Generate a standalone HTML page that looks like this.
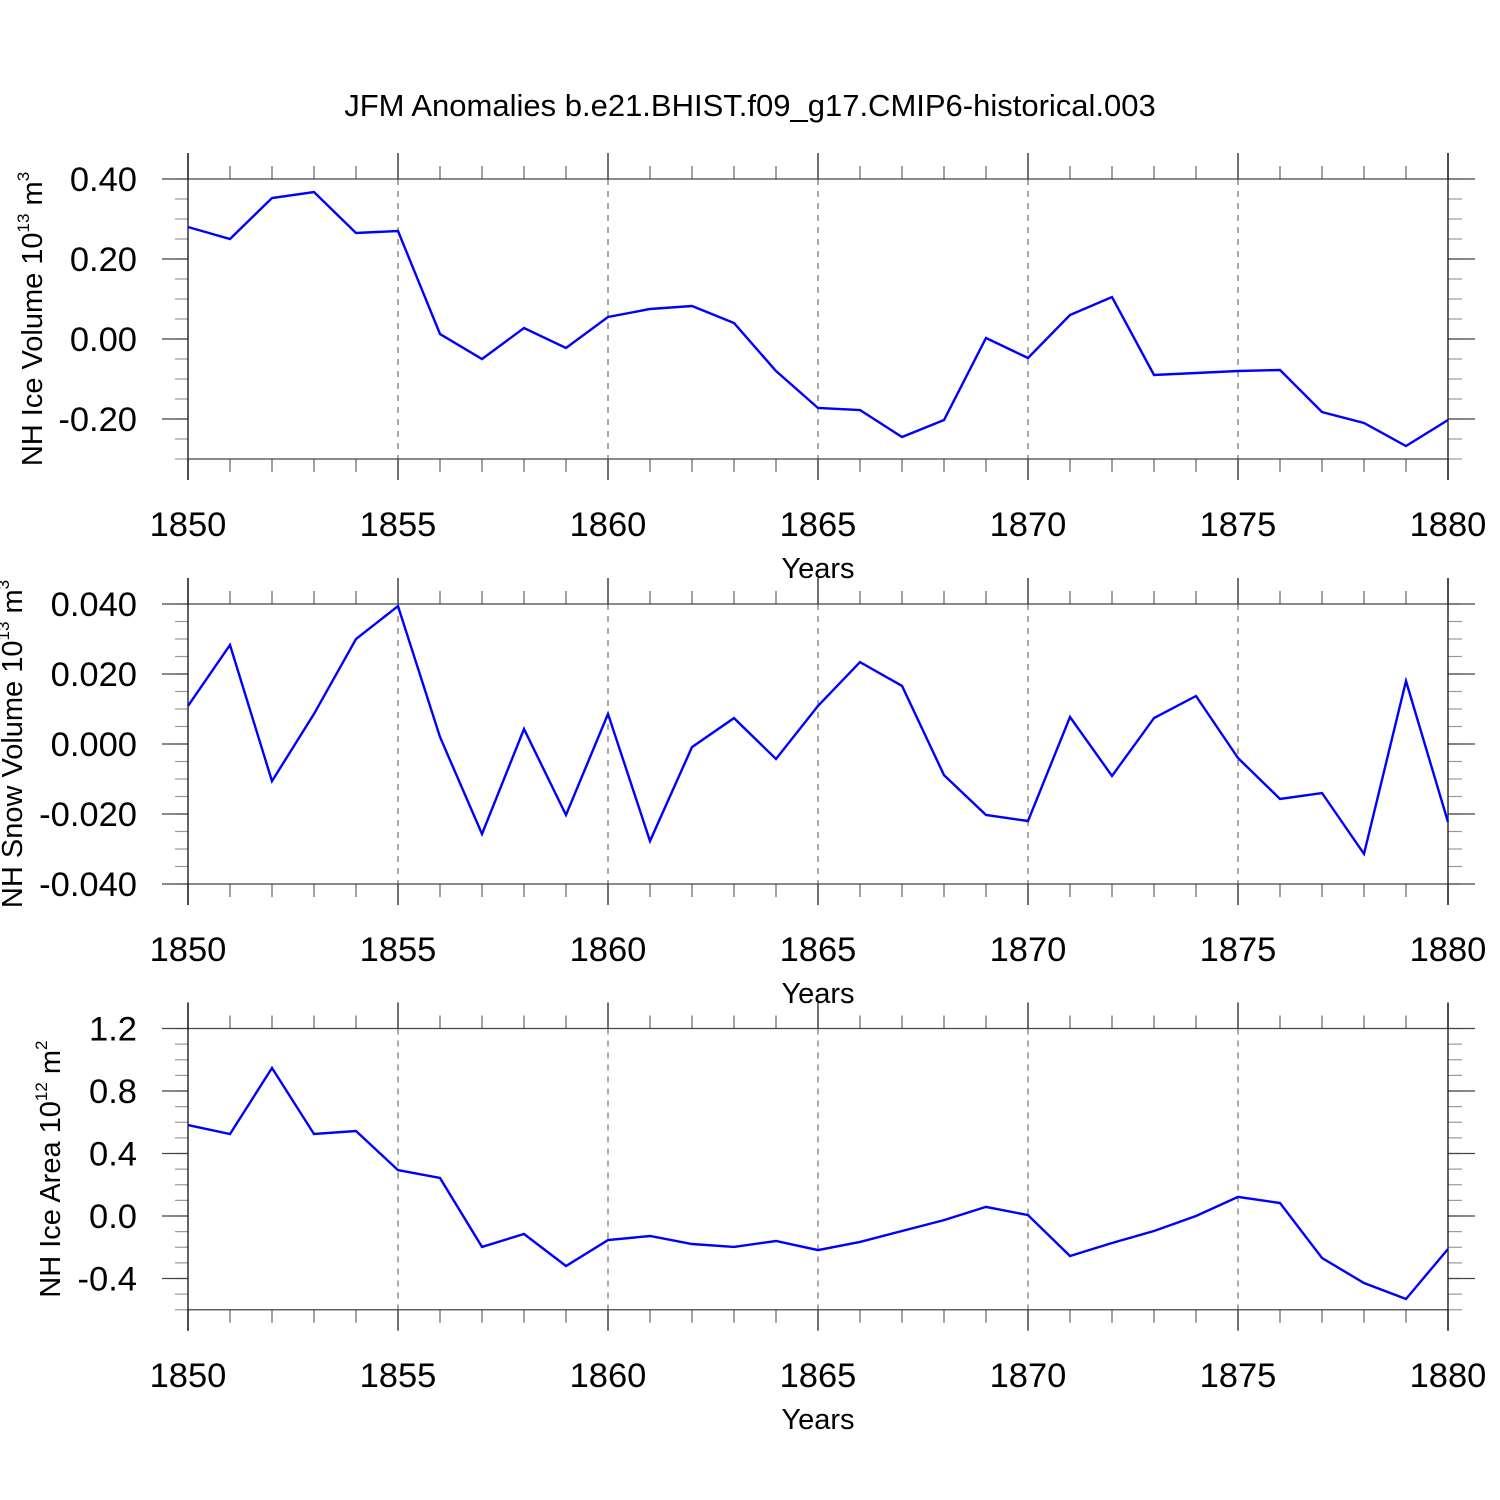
<!DOCTYPE html>
<html><head><meta charset="utf-8"><style>
html,body{margin:0;padding:0;background:#fff;}
svg{display:block;font-family:"Liberation Sans",sans-serif;}
</style></head><body>
<svg id="c" width="1500" height="1500" viewBox="0 0 1500 1500">
<text x="750" y="116" font-size="31" text-anchor="middle">JFM Anomalies b.e21.BHIST.f09_g17.CMIP6-historical.003</text>
</svg>
<script>
const years = [1850,1851,1852,1853,1854,1855,1856,1857,1858,1859,1860,1861,1862,1863,1864,1865,1866,1867,1868,1869,1870,1871,1872,1873,1874,1875,1876,1877,1878,1879,1880];
const iceVolume = [0.28,0.25,0.3525,0.3675,0.265,0.27,0.0125,-0.05,0.0275,-0.0225,0.055,0.075,0.0825,0.04,-0.08,-0.1725,-0.1775,-0.245,-0.2025,0.0025,-0.0475,0.06,0.105,-0.09,-0.085,-0.08,-0.0775,-0.1825,-0.21,-0.2675,-0.2025];
const snowVolume = [0.0109,0.0283,-0.0106,0.0086,0.030,0.0394,0.002,-0.0257,0.0043,-0.0203,0.0086,-0.0277,-0.0009,0.0074,-0.0043,0.0109,0.0234,0.0166,-0.0089,-0.0203,-0.022,0.0077,-0.0091,0.0074,0.0137,-0.004,-0.0157,-0.014,-0.0314,0.018,-0.0223];
const iceArea = [0.582,0.525,0.947,0.525,0.544,0.294,0.243,-0.198,-0.115,-0.32,-0.154,-0.128,-0.179,-0.198,-0.16,-0.218,-0.166,-0.096,-0.026,0.058,0.006,-0.256,-0.173,-0.096,0,0.122,0.083,-0.269,-0.429,-0.531,-0.211];
const xTicks = [1850,1855,1860,1865,1870,1875,1880];
const ticks1 = ["0.40","0.20","0.00","-0.20"];
const ticks2 = ["0.040","0.020","0.000","-0.020","-0.040"];
const ticks3 = ["1.2","0.8","0.4","0.0","-0.4"];

const NS="http://www.w3.org/2000/svg";
const svg=document.getElementById('c');
function mk(tag,attrs,parent){const e=document.createElementNS(NS,tag);for(const k in attrs)e.setAttribute(k,attrs[k]);(parent||svg).appendChild(e);return e;}

function panel(cfg){
  const g=mk('g',{});
  
  
  const L=188,R=1448,T=cfg.top,B=cfg.bottom;
  const xs=v=>L+(v-1850)*(R-L)/30;
  const ys=v=>T+(cfg.ymax-v)*(B-T)/(cfg.ymax-cfg.ymin);
  xTicks.slice(1,-1).forEach(v=>{const l=mk('line',{x1:xs(v),x2:xs(v),y1:T,y2:B,stroke:'#555','stroke-width':1,'stroke-dasharray':'6,6'},g);
    });
  years.forEach(v=>{if(xTicks.indexOf(v)<0){
    mk('line',{x1:xs(v),x2:xs(v),y1:T-13,y2:T,stroke:'#444','stroke-width':1},g);
    mk('line',{x1:xs(v),x2:xs(v),y1:B,y2:B+13,stroke:'#444','stroke-width':1},g);}});
  xTicks.forEach(v=>{
    mk('line',{x1:xs(v),x2:xs(v),y1:T-26,y2:T,stroke:'#222','stroke-width':1.3},g);
    mk('line',{x1:xs(v),x2:xs(v),y1:B,y2:B+21,stroke:'#222','stroke-width':1.3},g);
    const t=mk('text',{x:xs(v),y:B+77,'font-size':34.5,'text-anchor':'middle'},g);t.textContent=v;
    
  });
  for(let v=cfg.ymin;v<=cfg.ymax+1e-9;v+=cfg.minor){
    const y=ys(v);
    mk('line',{x1:L-13,x2:L,y1:y,y2:y,stroke:'#999','stroke-width':1.2},g);
    mk('line',{x1:R,x2:R+14,y1:y,y2:y,stroke:'#999','stroke-width':1.2},g);
  }
  cfg.majors.forEach((v,i)=>{
    const y=ys(v);
    mk('line',{x1:L-26,x2:L,y1:y,y2:y,stroke:'#444','stroke-width':1.3},g);
    mk('line',{x1:R,x2:R+27,y1:y,y2:y,stroke:'#444','stroke-width':1.3},g);
    const t=mk('text',{x:L-51,y:y+12,'font-size':34.5,'text-anchor':'end'},g);t.textContent=cfg.labels[i];
    
  });
  mk('line',{x1:L,x2:R,y1:T,y2:T,stroke:'#444','stroke-width':1.3},g);
  mk('line',{x1:L,x2:R,y1:B,y2:B,stroke:'#444','stroke-width':1.3},g);
  mk('line',{x1:L,x2:L,y1:T-26,y2:B+21,stroke:'#111','stroke-width':1.3},g);
  mk('line',{x1:R,x2:R,y1:T-26,y2:B+21,stroke:'#111','stroke-width':1.3},g);
  const pts=years.map((yr,i)=>xs(yr).toFixed(1)+','+ys(cfg.data[i]).toFixed(1)).join(' ');
  const pl=mk('polyline',{points:pts,fill:'none',stroke:'#0000ff','stroke-width':2.4,'stroke-linejoin':'miter'},g);
  
  const xt=mk('text',{x:818,y:B+119,'font-size':29,'text-anchor':'middle'},g);xt.textContent='Years';
  
  const yt=mk('text',{transform:'translate('+cfg.ytx+','+((T+B)/2)+') rotate(-90)','font-size':29,'text-anchor':'middle'},g);
  yt.innerHTML=cfg.ytitle;
  
}
panel({name:'ice-volume-panel',top:179,bottom:459,ymin:-0.30,ymax:0.40,minor:0.05,majors:[0.4,0.2,0,-0.2],labels:ticks1,data:iceVolume,ytx:42,
  ytitle:'NH Ice Volume 10<tspan font-size="17" dy="-13">13</tspan><tspan dy="13"> m</tspan><tspan font-size="17" dy="-13">3</tspan>'});
panel({name:'snow-volume-panel',top:604,bottom:884,ymin:-0.04,ymax:0.04,minor:0.005,majors:[0.04,0.02,0,-0.02,-0.04],labels:ticks2,data:snowVolume,ytx:22,
  ytitle:'NH Snow Volume 10<tspan font-size="17" dy="-13">13</tspan><tspan dy="13"> m</tspan><tspan font-size="17" dy="-13">3</tspan>'});
panel({name:'ice-area-panel',top:1028.5,bottom:1309.75,ymin:-0.6,ymax:1.2,minor:0.1,majors:[1.2,0.8,0.4,0,-0.4],labels:ticks3,data:iceArea,ytx:60,
  ytitle:'NH Ice Area 10<tspan font-size="17" dy="-13">12</tspan><tspan dy="13"> m</tspan><tspan font-size="17" dy="-13">2</tspan>'});
</script>
</body></html>
